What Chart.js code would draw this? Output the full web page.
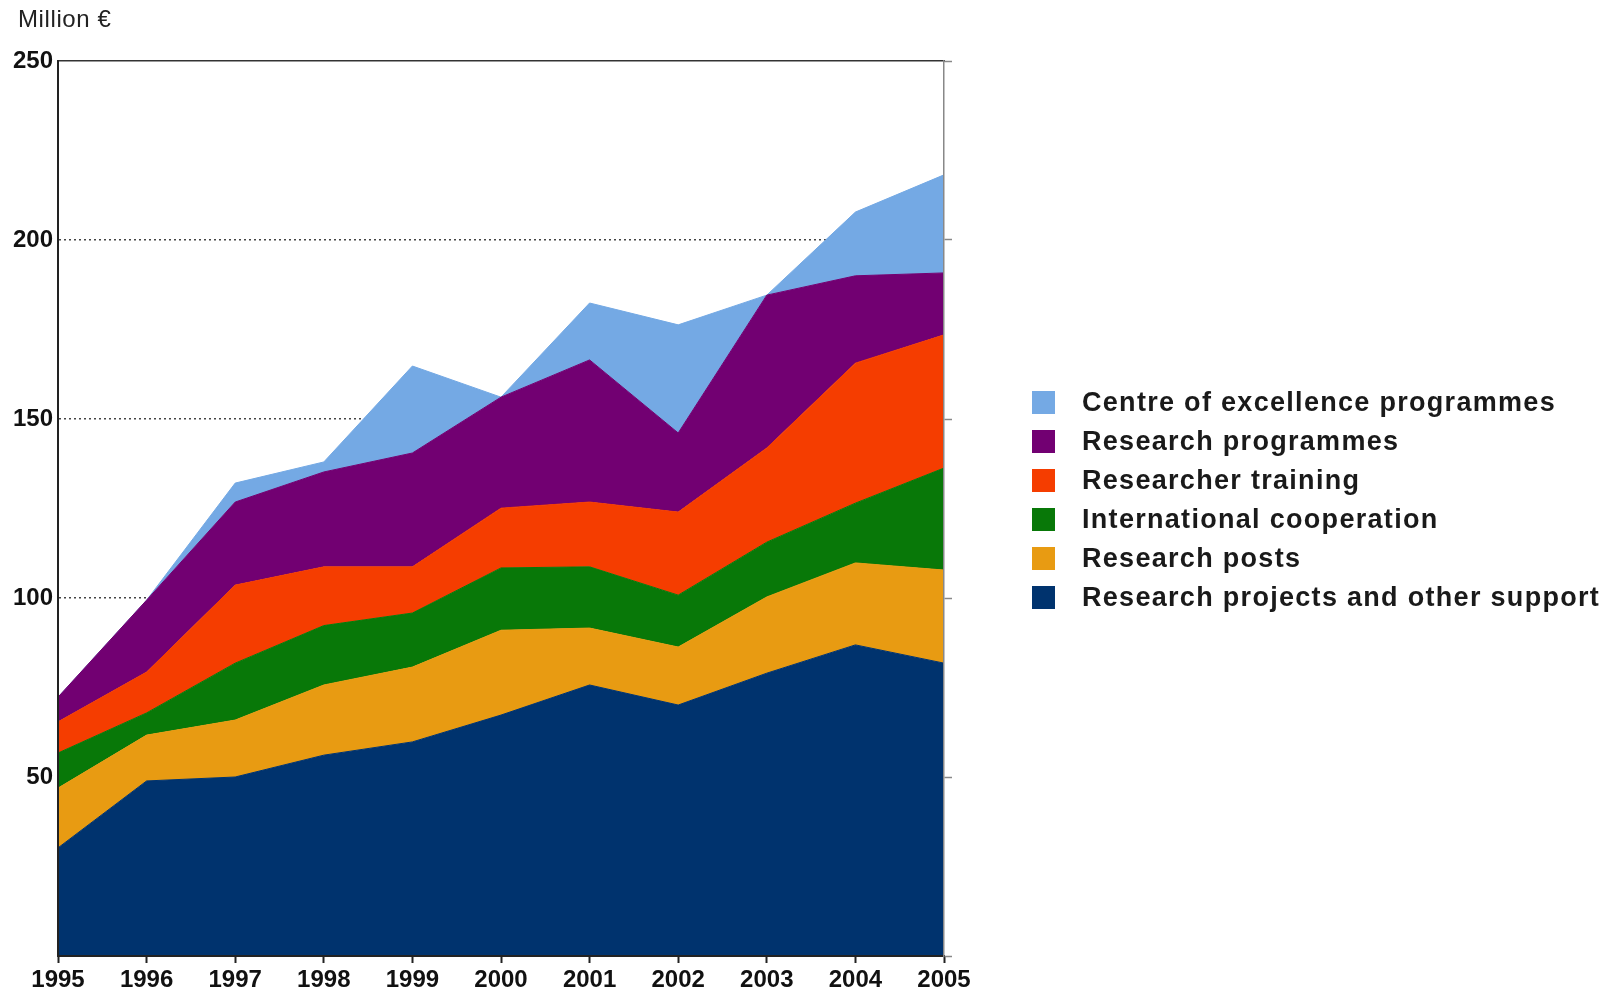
<!DOCTYPE html>
<html>
<head>
<meta charset="utf-8">
<title>Research funding 1995-2005</title>
<script src="https://cdn.jsdelivr.net/npm/chart.js@4"></script>
<style>
  html, body { margin: 0; padding: 0; background: #fff; }
  #wrap { position: relative; width: 1620px; height: 995px; font-family: "Liberation Sans", Arial, sans-serif; }
  #chart { position: absolute; left: 0; top: 0; }
  #unit { position: absolute; left: 18px; top: 5px; font-size: 24px; letter-spacing: 0.6px; color: #222; }
  #legend { position: absolute; left: 1032px; top: 383px; margin: 0; padding: 0; list-style: none; }
  #legend li { height: 39px; display: flex; align-items: center; font-size: 27px; font-weight: bold; letter-spacing: 1.3px; color: #1a1a1a; white-space: nowrap; }
  #legend span.box { width: 23px; height: 23px; margin-right: 27px; display: inline-block; }
</style>
</head>
<body>
<div id="wrap">
  <canvas id="chart" width="1620" height="995"></canvas>
  <div id="unit">Million €</div>
  <ul id="legend"></ul>
</div>
<script>
// Năm (trục X)
const years = ["1995", "1996", "1997", "1998", "1999", "2000", "2001", "2002", "2003", "2004", "2005"];

// Giá trị từng hạng mục (triệu €), xếp chồng từ dưới lên
const researchProjects = [30.2, 48.9, 50.0, 56.1, 59.8, 67.3, 75.7, 70.1, 79.0, 86.9, 81.8];
const researchPosts = [16.7, 12.8, 15.9, 19.6, 20.9, 23.7, 15.9, 16.2, 21.3, 22.9, 26.0];
const internationalCoop = [9.8, 6.2, 15.9, 16.6, 15.1, 17.4, 17.1, 14.5, 15.3, 16.7, 28.5];
const researcherTraining = [8.7, 11.4, 21.8, 16.4, 12.9, 16.7, 18.1, 23.2, 26.3, 39.1, 37.2];
const researchProgrammes = [6.9, 20.1, 23.2, 26.5, 31.8, 31.0, 39.7, 22.1, 42.7, 24.4, 17.3];
const centreOfExcellence = [0, 0, 5.3, 2.8, 24.3, 0, 15.9, 30.2, 0, 17.8, 27.4];

// Tên và màu các lớp
const seriesNames = [
  "Research projects and other support",
  "Research posts",
  "International cooperation",
  "Researcher training",
  "Research programmes",
  "Centre of excellence programmes",
];
const seriesData = [researchProjects, researchPosts, internationalCoop, researcherTraining, researchProgrammes, centreOfExcellence];
const seriesColors = ["#00336e", "#e89b12", "#087808", "#f53d00", "#720072", "#74a9e4"];

// Vạch chia trục Y
const yMin = 0;
const yMax = 250;
const yStep = 50;
const dottedTicks = [100, 150, 200];

// Tạo datasets cho biểu đồ miền xếp chồng
const datasets = seriesNames.map((name, i) => ({
  label: name,
  data: seriesData[i],
  backgroundColor: seriesColors[i],
  borderColor: seriesColors[i],
  borderWidth: 1,
  pointRadius: 0,
  tension: 0,
  fill: i === 0 ? "origin" : "-1",
}));

const tickFont = { family: "'Liberation Sans', Arial, sans-serif", size: 24, weight: "bold" };

const ctx = document.getElementById("chart").getContext("2d");
const chart = new Chart(ctx, {
  type: "line",
  data: { labels: years, datasets: datasets },
  options: {
    responsive: false,
    animation: false,
    layout: { padding: { left: 0, top: 61, right: 664, bottom: 0 } },
    plugins: {
      legend: { display: false },
      tooltip: { enabled: false },
    },
    scales: {
      x: {
        position: "bottom",
        grid: { drawOnChartArea: false, drawTicks: true, tickLength: 7, tickColor: "#222", tickWidth: 2 },
        border: { color: "#222", width: 2, z: 1 },
        ticks: { color: "#111", font: tickFont, padding: 3, maxRotation: 0, autoSkip: false },
        afterFit: (scale) => { scale.height = 39; },
      },
      x2: {
        position: "top",
        labels: years,
        grid: { display: false },
        border: { color: "#333", width: 1.5, z: 1 },
        ticks: { display: false },
        afterFit: (scale) => { scale.height = 0; },
      },
      y: {
        stacked: true,
        min: yMin,
        max: yMax,
        ticks: {
          stepSize: yStep,
          color: "#111",
          font: tickFont,
          padding: 5,
          callback: (value) => (value === 0 ? "" : value),
        },
        grid: {
          drawTicks: false,
          lineWidth: 1.5,
          color: (c) => (dottedTicks.includes(c.tick && c.tick.value) ? "#444" : "rgba(0,0,0,0)"),
        },
        border: { color: "#222", width: 2, dash: [2, 3], z: 1 },
        afterFit: (scale) => { scale.width = 58; },
      },
      y2: {
        position: "right",
        min: yMin,
        max: yMax,
        ticks: { display: false, stepSize: yStep },
        grid: { drawOnChartArea: false, drawTicks: true, tickLength: 8, tickColor: "#888", tickWidth: 1.5 },
        border: { color: "#888", width: 1.5, z: 1 },
        afterFit: (scale) => { scale.width = 12; },
      },
    },
  },
});

// Chú thích: lớp trên cùng hiển thị đầu tiên
const legend = document.getElementById("legend");
for (let i = seriesNames.length - 1; i >= 0; i--) {
  const li = document.createElement("li");
  const box = document.createElement("span");
  box.className = "box";
  box.style.background = seriesColors[i];
  li.appendChild(box);
  li.appendChild(document.createTextNode(seriesNames[i]));
  legend.appendChild(li);
}
</script>
</body>
</html>
